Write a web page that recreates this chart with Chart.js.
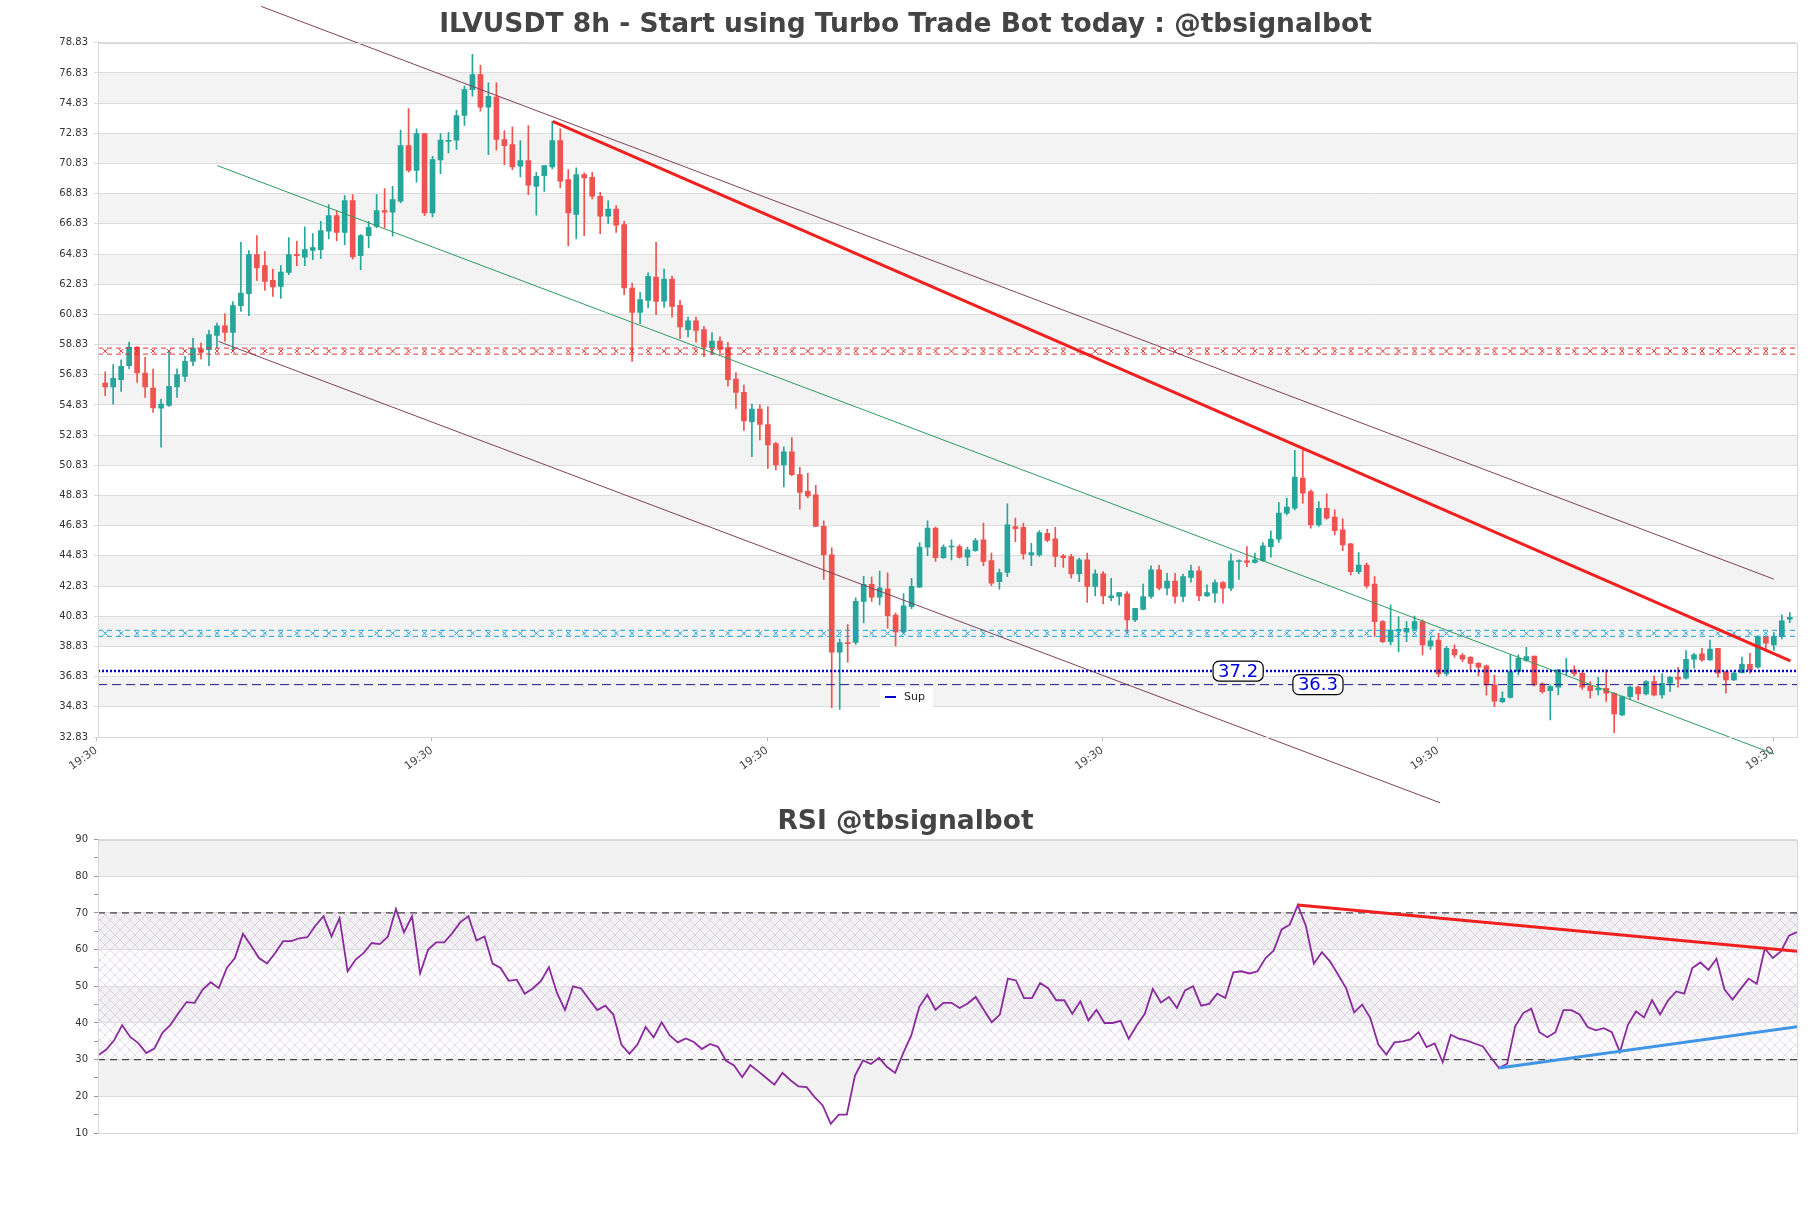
<!DOCTYPE html>
<html><head><meta charset="utf-8">
<script src="https://cdn.jsdelivr.net/npm/chart.js@4.4.1/dist/chart.umd.min.js"></script>
<style>
html,body{margin:0;padding:0;background:#fff;width:1811px;height:1208px;overflow:hidden}
#c1{position:absolute;left:0;top:0}
#c2{position:absolute;left:0;top:790px}
</style></head><body>
<canvas id="c1" width="1811" height="810"></canvas>
<canvas id="c2" width="1811" height="418"></canvas>
<script>
const opens=[56.28,56.02,56.5,57.43,58.67,56.95,55.95,54.62,54.8,56.02,56.72,57.72,58.55,58.49,59.44,60.08,59.64,61.41,62.2,64.79,64.06,63.09,62.69,63.62,64.79,64.62,65.08,65.12,66.34,67.38,66.27,68.37,64.72,66.05,66.67,67.72,67.6,68.33,72.02,70.38,72.82,67.56,71.07,72.3,72.37,74.01,75.73,76.73,74.56,75.23,72.42,72.09,70.65,71.03,69.32,70.03,70.61,72.35,69.77,67.45,70.1,69.92,68.66,67.34,67.82,66.78,62.58,60.97,61.76,63.31,61.71,63.18,61.43,59.82,60.41,59.82,58.63,59.06,58.63,56.55,55.67,53.7,54.56,53.54,52.28,50.86,51.72,50.22,49.11,48.87,46.79,44.9,38.45,39.09,39.09,41.82,42.95,42.1,42.65,40.91,39.8,41.46,42.76,45.41,46.67,44.71,45.42,45.45,44.74,45.18,45.89,44.52,43.13,43.73,46.78,46.73,44.9,44.9,46.33,45.96,44.83,44.79,43.64,44.57,42.8,43.64,42.07,42.14,42.31,40.59,41.29,42.14,43.9,42.69,43.17,42.14,43.4,43.84,42.18,42.36,43.06,42.69,44.46,44.5,44.39,44.52,45.45,45.94,47.66,47.99,49.98,49.1,46.89,47.99,47.4,46.56,45.63,43.79,44.23,42.97,40.48,39.15,39.88,39.77,39.97,40.48,38.86,39.26,37.01,38.64,38.24,38.11,37.71,37.54,36.28,35.17,35.46,37.17,37.9,38.2,36.35,35.9,36.13,37.17,37.28,37.05,36.21,35.95,36.06,35.73,34.29,35.51,36.13,35.68,36.5,35.62,36.39,36.79,36.72,37.98,38.34,37.94,38.71,37.17,36.61,37.1,37.65,37.45,39.48,38.93,39.48,40.63];
const highs=[57.03,57.5,57.83,59.0,58.7,58.0,57.21,55.22,58.38,57.23,58.05,59.27,58.94,59.78,60.26,60.88,61.68,65.61,65.06,66.05,64.99,63.84,64.06,65.92,65.68,66.63,66.19,67.0,68.11,67.73,68.7,68.77,66.12,67.0,68.77,69.17,69.32,73.04,74.47,73.13,72.82,71.31,72.82,72.9,74.36,75.96,78.06,77.33,76.18,76.18,73.02,73.26,72.35,73.35,70.25,70.7,73.63,73.13,70.43,70.54,70.21,70.25,68.92,68.37,68.04,67.0,62.91,62.3,63.58,65.61,63.84,63.37,61.76,60.65,60.65,60.05,59.63,59.34,58.99,56.97,56.15,54.89,54.84,54.72,52.36,52.05,52.67,50.7,50.3,49.51,47.15,45.37,39.33,40.28,42.05,43.47,43.43,43.83,43.71,41.06,42.34,43.35,45.72,47.15,46.74,45.56,45.89,45.56,45.41,46.0,47.0,45.01,43.95,48.28,47.33,47.0,45.67,46.51,46.6,46.73,44.94,44.94,44.68,45.01,43.9,43.79,43.35,42.4,42.47,41.36,42.97,44.17,44.21,43.68,43.68,43.62,44.23,44.12,42.91,43.24,43.13,44.96,44.57,45.45,45.01,45.72,46.49,48.37,48.66,51.82,51.82,49.21,48.43,48.94,47.88,47.28,45.67,45.05,44.35,43.46,40.54,41.58,40.81,40.48,40.85,40.59,39.48,39.7,38.82,38.93,38.38,38.16,37.76,37.6,36.94,35.83,38.27,38.27,38.78,38.2,36.44,36.28,37.32,38.05,37.54,37.17,36.5,36.79,37.28,35.77,35.55,36.21,36.21,36.57,36.88,37.01,36.83,37.45,38.56,38.38,38.71,39.26,38.71,37.17,37.17,38.12,38.38,39.53,39.53,39.75,40.92,41.08];
const lows=[55.44,54.89,55.73,57.23,56.33,55.33,54.34,52.04,54.73,55.33,56.39,57.43,57.87,57.43,58.6,59.05,58.45,61.03,60.75,63.09,62.43,62.03,61.9,63.47,64.06,64.06,64.46,64.53,65.83,65.72,65.46,64.5,63.8,65.23,66.56,66.56,66.01,68.22,70.25,69.59,67.38,67.29,70.16,71.53,71.76,73.35,75.29,74.3,71.42,71.71,70.76,70.43,69.94,68.77,67.4,68.99,70.47,69.21,65.39,65.83,66.05,68.48,66.19,66.85,66.27,62.14,57.72,60.22,61.26,60.81,61.3,60.65,59.23,59.34,58.99,58.04,58.16,58.28,56.08,54.61,53.14,51.41,52.52,50.62,50.53,49.4,50.15,47.93,48.68,46.79,43.28,34.76,34.66,37.79,38.97,40.39,41.82,41.58,40.04,38.86,39.69,41.34,42.72,44.85,44.47,44.66,44.57,44.68,44.19,45.12,44.19,42.86,42.62,43.46,45.78,44.61,44.19,44.79,45.78,44.12,44.06,43.35,43.13,41.74,42.18,41.65,41.87,41.58,39.75,40.48,41.25,42.02,42.58,42.24,41.69,41.8,43.09,41.87,42.14,41.74,41.69,42.53,43.28,44.12,44.35,44.46,44.74,45.72,47.55,47.88,48.32,46.67,46.78,47.26,46.22,45.18,43.57,43.64,42.69,39.48,39.08,38.93,38.49,39.15,39.88,38.27,38.64,36.83,36.87,38.11,37.82,37.27,36.87,35.61,34.84,35.1,35.4,36.94,37.83,36.21,35.73,33.96,35.62,36.94,36.88,35.99,35.4,35.62,35.18,33.12,34.22,35.33,35.29,35.62,35.55,35.4,35.84,36.13,36.66,37.39,37.83,37.9,36.79,35.73,36.57,37.06,37.06,37.39,38.64,38.56,39.33,40.41];
const closes=[56.02,56.6,57.39,58.67,56.95,56.02,54.63,54.89,56.06,56.84,57.72,58.6,58.35,59.49,60.08,59.64,61.41,62.25,64.79,63.91,63.02,62.65,63.64,64.79,64.72,65.12,65.26,66.38,67.38,66.27,68.37,64.64,66.05,66.6,67.71,67.6,68.44,72.02,70.38,72.82,67.56,71.09,72.38,72.37,74.01,75.73,76.73,74.56,75.29,72.42,72.02,70.61,71.03,69.39,69.99,70.7,72.35,69.66,67.56,70.1,69.88,68.66,67.34,67.82,66.74,62.58,60.97,61.81,63.36,61.7,63.18,61.36,60.01,60.41,59.77,58.68,59.06,58.52,56.5,55.67,53.78,54.56,53.54,52.19,50.86,51.72,50.22,49.04,48.8,46.79,44.9,38.45,39.09,39.02,41.82,42.95,42.1,42.72,40.87,39.8,41.53,42.81,45.41,46.67,44.71,45.41,45.45,44.74,45.23,45.85,44.46,43.02,43.73,46.89,46.64,44.96,45.05,46.38,45.85,44.79,44.72,43.64,44.57,42.8,43.64,42.18,42.18,42.4,40.59,41.36,42.14,43.9,42.69,43.17,42.14,43.46,43.84,42.18,42.4,43.06,42.69,44.5,44.5,44.39,44.57,45.5,45.94,47.66,48.06,50.05,48.99,46.89,47.99,47.33,46.51,45.56,43.79,44.23,42.84,40.48,39.15,39.92,39.97,40.03,40.48,38.93,39.2,37.01,38.71,38.27,37.98,37.71,37.45,36.28,35.21,35.39,37.17,38.05,38.16,36.28,35.84,36.17,37.28,37.23,37.01,36.13,35.9,36.06,35.73,34.36,35.51,36.13,35.68,36.5,35.62,36.39,36.79,36.66,37.98,38.27,37.94,38.65,37.06,36.61,37.06,37.65,37.28,39.48,39.04,39.48,40.52,40.76];
const rsiValues=[31.2,32.7,35.3,39.4,36.2,34.5,31.8,33.0,37.3,39.5,42.7,45.7,45.5,49.1,51.1,49.5,55.0,57.7,64.3,61.1,57.7,56.2,59.1,62.3,62.3,63.1,63.4,66.5,69.1,63.6,68.6,54.1,57.3,59.1,61.8,61.5,63.5,71.1,64.7,69.1,53.5,60.0,62.0,62.0,64.5,67.5,69.1,62.5,63.6,56.2,55.0,51.5,51.8,48.0,49.4,51.4,55.2,48.2,43.5,50.0,49.4,46.4,43.5,44.7,42.3,34.1,31.6,34.1,38.9,36.1,40.2,36.6,34.7,35.8,34.8,32.9,34.3,33.5,29.7,28.4,25.2,28.5,26.8,25.0,23.2,26.4,24.4,22.7,22.5,19.8,17.5,12.5,15.0,15.0,25.6,29.8,28.8,30.5,28.0,26.4,31.8,36.6,44.4,47.7,43.6,45.5,45.5,44.1,45.3,47.1,43.6,40.2,42.3,52.1,51.6,46.8,46.8,50.9,49.5,46.2,46.2,42.5,45.9,40.7,43.6,40.0,40.0,40.6,35.7,39.3,42.5,49.3,45.6,47.1,44.1,48.9,50.0,44.7,45.2,48.0,46.8,53.8,54.1,53.5,54.1,57.7,59.7,65.5,66.8,72.1,66.5,56.2,59.3,56.8,53.2,49.5,42.9,45.0,41.4,34.1,31.4,34.7,35.0,35.5,37.5,33.4,34.4,29.3,36.8,35.7,35.2,34.4,33.6,30.5,27.7,28.9,39.1,42.7,43.9,37.5,36.1,37.5,43.5,43.5,42.3,38.9,38.0,38.6,37.5,32.1,39.5,43.2,41.5,46.2,42.3,46.2,48.6,48.0,55.0,56.5,54.5,57.5,49.1,46.4,49.3,52.1,50.7,60.3,57.7,59.5,63.8,64.8];
const yTickValues=[32.83,34.83,36.83,38.83,40.83,42.83,44.83,46.83,48.83,50.83,52.83,54.83,56.83,58.83,60.83,62.83,64.83,66.83,68.83,70.83,72.83,74.83,76.83,78.83];
const xTickIndex=[-1.1,40.9,82.9,124.9,166.9,208.9];
const xTickLabels=['19:30','19:30','19:30','19:30','19:30','19:30'];
const upperChannel=[{x:19.55,y:81.24},{x:209.0,y:43.29}];
const lowerChannel=[{x:14.2,y:59.04},{x:167.2,y:28.47}];
const midChannel=[{x:14.06,y:70.69},{x:209.06,y:31.7}];
const resistance=[{x:56.05,y:73.63},{x:211.07,y:37.87}];
const levelRed=58.4, levelCyan=39.7, levelSup=37.2, levelSup2=36.3;
const rsiResistance=[{x:149,y:72.2},{x:211.4,y:59.5}];
const rsiSupport=[{x:174,y:27.7},{x:211.4,y:39.1}];
const rsiUpper=70, rsiLower=30;
const supLabelIdx=141.9, sup2LabelIdx=151.9;

const GREEN='#26a69a', RED='#ef5350';
const FONT='"DejaVu Sans", sans-serif';
const idx=opens.map((_,i)=>i);
const up=i=>closes[i]>=opens[i];
const XMIN=-0.9, XMAX=211.9;

function levelSets(level,color,off){
  return [
    {type:'line',data:idx.filter(i=>i%2===0).map(i=>({x:i,y:level})),showLine:false,pointStyle:'crossRot',pointRadius:3,pointBorderWidth:1,pointBorderColor:color,pointBackgroundColor:color,order:0},
    {type:'line',data:[{x:XMIN,y:level+off},{x:XMAX,y:level+off}],borderColor:color,borderWidth:1,borderDash:[5,4],pointRadius:0,order:0},
    {type:'line',data:[{x:XMIN,y:level-off},{x:XMAX,y:level-off}],borderColor:color,borderWidth:1,borderDash:[5,4],pointRadius:0,order:0}
  ];
}

const bandPlugin={id:'bands',beforeDraw(chart,args,opts){
  const {ctx,chartArea:a,scales:{y}}=chart;
  ctx.save();
  ctx.fillStyle=opts.color;
  for(const [lo,hi] of opts.ranges){
    const t=y.getPixelForValue(hi), b=y.getPixelForValue(lo);
    ctx.fillRect(a.left,t,a.right-a.left,b-t);
  }
  if(opts.hatch){
    const c=document.createElement('canvas');c.width=10;c.height=10;
    const g=c.getContext('2d');g.strokeStyle='rgba(175,130,205,0.30)';g.lineWidth=1;
    g.beginPath();g.moveTo(0,0);g.lineTo(10,10);g.moveTo(10,0);g.lineTo(0,10);g.stroke();
    ctx.fillStyle=ctx.createPattern(c,'repeat');
    const t=y.getPixelForValue(opts.hatch[1]), b=y.getPixelForValue(opts.hatch[0]);
    ctx.fillRect(a.left,t,a.right-a.left,b-t);
  }
  ctx.restore();
},afterDraw(chart){
  const {ctx,chartArea:a}=chart;
  ctx.save();ctx.strokeStyle='#d8d8d8';ctx.lineWidth=1;
  ctx.strokeRect(Math.round(a.left)+0.5,Math.round(a.top)+0.5,Math.round(a.right-a.left),Math.round(a.bottom-a.top));
  ctx.restore();
}};

const labelPlugin={id:'lvlLabels',afterDatasetsDraw(chart){
  const {ctx,scales:{x,y},chartArea:a}=chart;
  ctx.save();
  function box(text,ix,val){
    const cx=x.getPixelForValue(ix), cy=y.getPixelForValue(val);
    ctx.font='18px '+FONT;
    const w=ctx.measureText(text).width+10, h=20;
    ctx.beginPath();ctx.roundRect(cx-w/2,cy-h/2,w,h,6);
    ctx.fillStyle='#fff';ctx.fill();ctx.strokeStyle='#000';ctx.lineWidth=1.2;ctx.stroke();
    ctx.fillStyle='#0000dd';ctx.textAlign='center';ctx.textBaseline='middle';
    ctx.fillText(text,cx,cy+1);
  }
  box(String(levelSup),supLabelIdx,levelSup);
  box(String(levelSup2),sup2LabelIdx,levelSup2);
  const lx=a.left+782, ly=a.bottom-50;
  ctx.fillStyle='rgba(255,255,255,0.9)';ctx.fillRect(lx,ly,53,20);
  ctx.strokeStyle='#0000cc';ctx.lineWidth=2;ctx.beginPath();ctx.moveTo(lx+5,ly+10);ctx.lineTo(lx+16,ly+10);ctx.stroke();
  ctx.fillStyle='#222';ctx.font='11px '+FONT;ctx.textAlign='left';ctx.textBaseline='middle';
  ctx.fillText('Sup',lx+24,ly+10);
  ctx.restore();
}};

const mainBands=[];
for(let v=34.83; v<78; v+=4) mainBands.push([v,v+2]);

new Chart(document.getElementById('c1'),{
  type:'bar',
  data:{datasets:[
    {type:'line',data:upperChannel,borderColor:'#7e4257',borderWidth:1,pointRadius:0,clip:false,order:0},
    {type:'line',data:lowerChannel,borderColor:'#7e4257',borderWidth:1,pointRadius:0,clip:false,order:0},
    {type:'line',data:midChannel,borderColor:'#2f9a60',borderWidth:1,pointRadius:0,clip:false,order:0},
    {type:'line',data:resistance,borderColor:'#f21f1f',borderWidth:3,pointRadius:0,order:0},
    ...levelSets(levelRed,'#e0302c',0.2),
    ...levelSets(levelCyan,'#1e9fd6',0.2),
    {type:'line',data:[{x:XMIN,y:levelSup},{x:XMAX,y:levelSup}],borderColor:'#0000cc',borderWidth:2.5,borderDash:[2,2],pointRadius:0,order:0},
    {type:'line',data:[{x:XMIN,y:levelSup2},{x:XMAX,y:levelSup2}],borderColor:'#1a1a8c',borderWidth:1,borderDash:[9,5],pointRadius:0,order:0},
    {type:'bar',data:idx.map(i=>({x:i,y:[opens[i],closes[i]]})),backgroundColor:c=>up(c.dataIndex)?GREEN:RED,barThickness:5,minBarLength:1,grouped:false,order:1},
    {type:'bar',data:idx.map(i=>({x:i,y:[lows[i],highs[i]]})),backgroundColor:c=>up(c.dataIndex)?GREEN:RED,barThickness:1,grouped:false,order:2}
  ]},
  options:{
    responsive:false,animation:false,devicePixelRatio:1,
    layout:{padding:{left:0,right:0,top:0,bottom:0}},
    plugins:{legend:{display:false},tooltip:{enabled:false},
      title:{display:true,text:'ILVUSDT 8h - Start using Turbo Trade Bot today : @tbsignalbot',color:'#444',font:{family:FONT,size:26.5,weight:'bold'},padding:{top:9,bottom:2}},
      bands:{color:'#f3f3f3',ranges:mainBands}},
    scales:{
      x:{type:'linear',min:XMIN,max:XMAX,offset:false,
        afterBuildTicks:s=>{s.ticks=xTickIndex.map(v=>({value:v}));},
        afterFit:s=>{s.height=73;},
        ticks:{autoSkip:false,minRotation:35,maxRotation:35,color:'#444',font:{family:FONT,size:11},
          callback:(v,i)=>xTickLabels[i]},
        grid:{display:true,offset:false,drawOnChartArea:false,tickLength:4,color:'#bbb'},border:{color:'#d8d8d8'}},
      y:{min:32.83,max:78.83,
        afterBuildTicks:s=>{s.ticks=yTickValues.map(v=>({value:v}));},
        afterFit:s=>{s.width=98;},
        ticks:{color:'#333',font:{family:FONT,size:10},padding:6,callback:v=>Number(v).toFixed(2)},
        grid:{color:'#dcdcdc',tickLength:4},border:{color:'#d8d8d8'}},
      yr:{position:'right',display:true,afterFit:s=>{s.width=14;},ticks:{display:false},grid:{display:false},border:{display:false}}
    }
  },
  plugins:[bandPlugin,labelPlugin]
});

const rsiIdx=rsiValues.map((_,i)=>i);
new Chart(document.getElementById('c2'),{
  type:'line',
  data:{datasets:[
    {data:rsiIdx.map(i=>({x:i,y:rsiValues[i]})),borderColor:'#8a2a9c',borderWidth:1.8,pointRadius:0,order:2},
    {data:[{x:0,y:rsiUpper},{x:211,y:rsiUpper}],borderColor:'#444',borderWidth:1.2,borderDash:[7,5],pointRadius:0,order:3},
    {data:[{x:0,y:rsiLower},{x:211,y:rsiLower}],borderColor:'#444',borderWidth:1.2,borderDash:[7,5],pointRadius:0,order:3},
    {data:rsiResistance,borderColor:'#f21f1f',borderWidth:3,pointRadius:0,order:0},
    {data:rsiSupport,borderColor:'#3f95e6',borderWidth:3,pointRadius:0,order:0}
  ]},
  options:{
    responsive:false,animation:false,devicePixelRatio:1,
    layout:{padding:{left:0,right:0,top:0,bottom:75}},
    plugins:{legend:{display:false},tooltip:{enabled:false},
      title:{display:true,text:'RSI @tbsignalbot',color:'#444',font:{family:FONT,size:26.5,weight:'bold'},padding:{top:16,bottom:1.8}},
      bands:{color:'#f2f2f2',ranges:[[80,90],[60,70],[40,50],[20,30]],hatch:[30,70]}},
    scales:{
      x:{type:'linear',min:0,max:211,display:false},
      y:{min:10,max:90,afterFit:s=>{s.width=98;},
        ticks:{stepSize:5,autoSkip:false,color:'#333',font:{family:FONT,size:10},padding:6,callback:v=>(v%10===0?String(v):'')},
        grid:{color:c=>(c.tick&&c.tick.value%10===0)?'#dcdcdc':'rgba(0,0,0,0)',tickColor:'#999',tickLength:4},border:{color:'#d8d8d8'}},
      yr:{position:'right',display:true,afterFit:s=>{s.width=14;},ticks:{display:false},grid:{display:false},border:{display:false}}
    }
  },
  plugins:[bandPlugin]
});
</script>
</body></html>
